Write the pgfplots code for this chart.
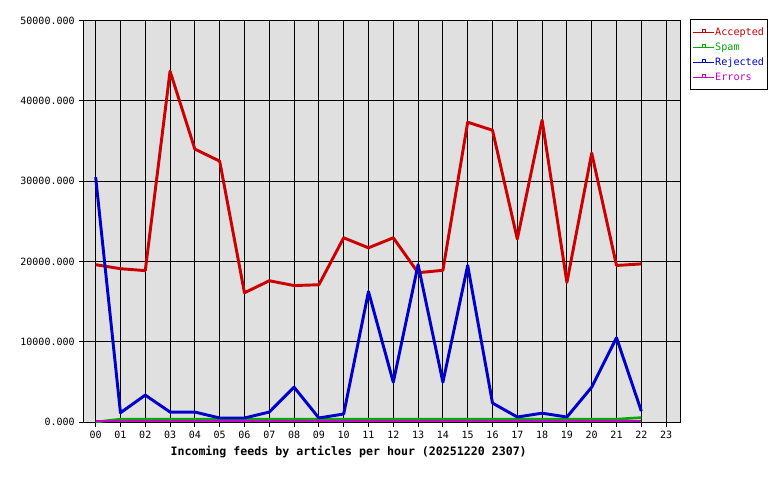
\documentclass[border=0pt]{standalone}
\usepackage{fontspec}
\setmainfont{DejaVu Sans Mono}
\usepackage{pgfplots}
\pgfplotsset{compat=1.18}
\definecolor{cAcc}{HTML}{CC0000}
\definecolor{cSpam}{HTML}{00AA00}
\definecolor{cRej}{HTML}{0000CC}
\definecolor{cErr}{HTML}{CC00CC}
\definecolor{bgGray}{HTML}{E0E0E0}
\begin{document}
\begin{tikzpicture}[x=1pt,y=1pt]
% 1px = 0.75pt; image 780x480 px
\useasboundingbox (-63,-43.5) rectangle (522,316.5);
\begin{axis}[
  scale only axis, width=447pt, height=301pt,
  at={(0,0)}, anchor=south west,
  xmin=-0.47, xmax=23.56, ymin=0, ymax=50000,
  scaled y ticks=false,
  axis background/.style={fill=bgGray},
  axis line style={black, line width=0.75pt},
  xtick={0,...,23},
  xticklabels={00,01,02,03,04,05,06,07,08,09,10,11,12,13,14,15,16,17,18,19,20,21,22,23},
  ytick={0,10000,20000,30000,40000,50000},
  yticklabels={0.000,10000.000,20000.000,30000.000,40000.000,50000.000},
  tick align=outside, major tick length=3.5pt,
  tick style={black, line width=0.75pt},
  xtick pos=bottom, ytick pos=left,
  grid=major, major grid style={black, line width=0.75pt},
  ticklabel style={font=\fontsize{7.5pt}{8pt}\selectfont},
  xlabel={\bfseries Incoming feeds by articles per hour (20251220 2307)},
  xlabel style={font=\fontsize{8.7pt}{9pt}\selectfont, at={(axis description cs:0.5,0)}, anchor=center, yshift=-22.5pt, xshift=-25pt},
  legend style={at={(rel axis cs:1,1)}, anchor=north west, xshift=7.5pt, yshift=1pt,
    draw=black, line width=0.75pt, fill=white,
    font=\fontsize{7.6pt}{8pt}\selectfont, inner xsep=1.5pt, inner ysep=3.6pt, row sep=0pt,
    nodes={inner sep=0.8pt, text height=6pt, text depth=1.6pt, minimum height=11.25pt}},
  legend cell align=left,
  legend image code/.code={
    \draw[#1, line width=0.75pt] (0pt,0pt) -- (15.5pt,0pt);
    \draw[#1, line width=0.6pt, fill=none] (7.2pt,0pt) rectangle (9.6pt,2.2pt);
  },
  clip=true,
]
\addplot[cAcc, line width=2.2pt, line join=round] coordinates {
(0,19600) (1,19100) (2,18860) (3,43700) (4,34000) (5,32500) (6,16100) (7,17600)
(8,17000) (9,17100) (10,22950) (11,21700) (12,22950) (13,18600) (14,18900)
(15,37350) (16,36350) (17,22800) (18,37600) (19,17400) (20,33500) (21,19500) (22,19700)};
\addlegendentry{\textcolor{cAcc}{Accepted}}
\addplot[cSpam, line width=2pt] coordinates {
(0,0) (1,350) (2,350) (3,350) (4,350) (5,350) (6,350) (7,350) (8,350) (9,350)
(10,350) (11,350) (12,350) (13,350) (14,350) (15,350) (16,350) (17,350) (18,350)
(19,350) (20,350) (21,350) (22,550)};
\addlegendentry{\textcolor{cSpam}{Spam}}
\addplot[cRej, line width=2.2pt, line join=round] coordinates {
(0,30500) (1,1150) (2,3350) (3,1240) (4,1240) (5,500) (6,500) (7,1240) (8,4340)
(9,500) (10,1000) (11,16250) (12,4960) (13,19600) (14,4960) (15,19500) (16,2360)
(17,620) (18,1100) (19,620) (20,4340) (21,10500) (22,1360)};
\addlegendentry{\textcolor{cRej}{Rejected}\hspace{3.5pt}}
\addplot[cErr, line width=1.6pt] coordinates {
(0,130) (1,130) (2,130) (3,130) (4,130) (5,130) (6,130) (7,130) (8,130) (9,130)
(10,130) (11,130) (12,130) (13,130) (14,130) (15,130) (16,130) (17,130) (18,130)
(19,130) (20,130) (21,130) (22,130)};
\addlegendentry{\textcolor{cErr}{Errors}}
\end{axis}
\end{tikzpicture}
\end{document}
